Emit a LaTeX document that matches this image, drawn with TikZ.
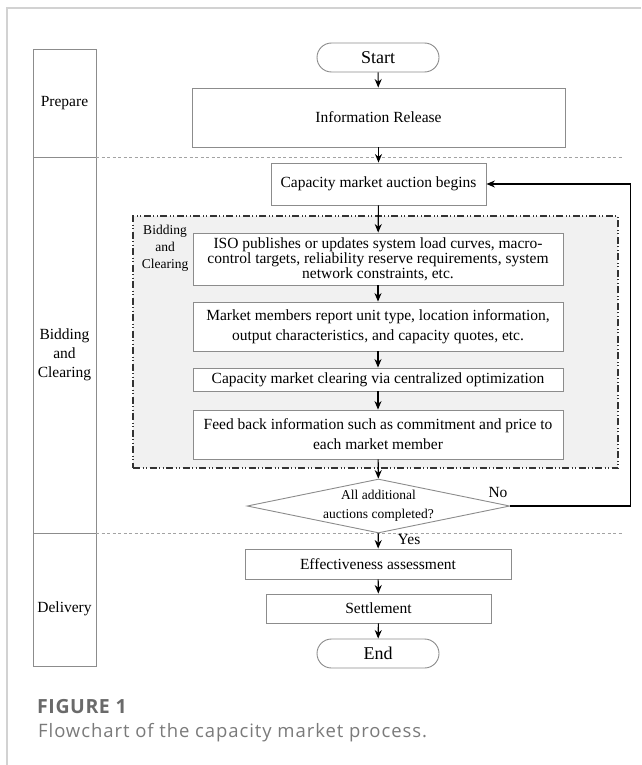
\documentclass[tikz,border=0pt]{standalone}
\usepackage{fontspec}
\setmainfont{Liberation Serif}
\newfontfamily\capfont[LetterSpace=5]{Open Sans}
\newfontfamily\capheadfont[LetterSpace=3]{Open Sans}
\usetikzlibrary{shapes.misc, shapes.geometric, arrows.meta}

\definecolor{framegray}{HTML}{D2D2D2}
\definecolor{boxgray}{HTML}{8C8C8C}
\definecolor{groupfill}{HTML}{F1F1F1}
\definecolor{capgray}{HTML}{6A6A6A}
\definecolor{captext}{HTML}{7A7A7A}

\tikzset{
  flowbox/.style={draw=boxgray, fill=white, line width=0.9pt, inner sep=0pt,
    align=center, font=\fontsize{15.5}{20}\selectfont},
  terminal/.style={rounded rectangle, draw=boxgray, fill=white, line width=0.9pt,
    minimum width=122pt, minimum height=29pt, inner sep=0pt,
    font=\fontsize{18}{20}\selectfont},
  decision/.style={diamond, draw=boxgray, fill=white, line width=0.9pt, aspect=4.87,
    minimum width=253pt, minimum height=52pt, inner sep=0pt, align=center,
    font=\fontsize{13.5}{19}\selectfont},
  groupbox/.style={draw=black!80, fill=groupfill, line width=1.1pt,
    dash pattern=on 7pt off 2.5pt on 1pt off 2.5pt on 1pt off 2.5pt},
  lanesep/.style={draw=boxgray!80, line width=0.6pt, dash pattern=on 3pt off 2.5pt},
  lanetext/.style={align=center, font=\fontsize{15.5}{19}\selectfont},
  flow/.style={-{Stealth[length=8.5pt,width=7pt]}, line width=1.1pt}
}

\begin{document}
\begin{tikzpicture}[x=1pt, y=-1pt]
  \useasboundingbox (0,0) rectangle (641,765);

  % Page frame
  \draw[framegray, line width=1.5pt] (641,8) -- (7,8) -- (7,765);

  % Lanes
  \draw[boxgray, line width=0.9pt] (33,49) rectangle (96,666);
  \draw[boxgray, line width=0.9pt] (33,157) -- (96,157);
  \draw[boxgray, line width=0.9pt] (33,533) -- (96,533);
  \draw[lanesep] (96,157) -- (623,157);
  \draw[lanesep] (96,533) -- (623,533);
  \node[lanetext] (prepare) at (64.5,103) {Prepare};
  \node[lanetext] (bidding) at (64.5,355) {Bidding\\and\\Clearing};
  \node[lanetext] (delivery) at (64.5,609) {Delivery};

  % Bidding and clearing group
  \node[groupbox, minimum width=485pt, minimum height=252pt, inner sep=0pt]
    (group) at (375.5,342) {};
  \node[align=center, font=\fontsize{13.5}{17}\selectfont] (grouplabel)
    at (165,248) {Bidding\\and\\Clearing};

  % Flow
  \node[terminal] (start) at (378,57.5) {Start};
  \node[flowbox, minimum width=373pt, minimum height=59pt] (info)
    at (378.5,117.5) {Information Release};
  \node[flowbox, minimum width=215pt, minimum height=42pt] (auction)
    at (378.5,184) {Capacity market auction begins};
  \node[flowbox, minimum width=370pt, minimum height=52pt,
    font=\fontsize{15.5}{15}\selectfont] (iso) at (378,259)
    {ISO publishes or updates system load curves, macro-\\
     control targets, reliability reserve requirements, system\\
     network constraints, etc.};
  \node[flowbox, minimum width=370pt, minimum height=49pt] (members)
    at (378,326.5) {Market members report unit type, location information,\\
     output characteristics, and capacity quotes, etc.};
  \node[flowbox, minimum width=370pt, minimum height=23pt] (clearing)
    at (378,379.5) {Capacity market clearing via centralized optimization};
  \node[flowbox, minimum width=370pt, minimum height=49pt] (feedback)
    at (378,434.5) {Feed back information such as commitment and price to\\
     each market member};
  \node[decision] (check) at (378.5,506) {All additional\\auctions completed?};
  \node[flowbox, minimum width=266pt, minimum height=30pt] (assess)
    at (378,564) {Effectiveness assessment};
  \node[flowbox, minimum width=225pt, minimum height=29pt] (settle)
    at (378.5,608.5) {Settlement};
  \node[terminal] (end) at (378,653.5) {End};

  \draw[flow] (start) -- (info);
  \draw[flow] (info) -- (auction);
  \draw[flow] (auction) -- (iso);
  \draw[flow] (iso) -- (members);
  \draw[flow] (members) -- (clearing);
  \draw[flow] (clearing) -- (feedback);
  \draw[flow] (feedback) -- (check);
  \draw[flow] (check) -- (assess);
  \draw[flow] (assess) -- (settle);
  \draw[flow] (settle) -- (end);
  \draw[flow] (check.east) -- ++(120,0) |- (auction.east);
  \node[font=\fontsize{15.5}{18}\selectfont] (no) at (498,492) {No};
  \node[font=\fontsize{15.5}{18}\selectfont] (yes) at (409,539) {Yes};

  % Caption
  \node[anchor=base west, inner sep=0pt, text=capgray,
    font=\capheadfont\bfseries\fontsize{19.5}{20}\selectfont] (figno) at (37,713) {FIGURE 1};
  \node[anchor=base west, inner sep=0pt, text=captext,
    font=\capfont\fontsize{18.5}{20}\selectfont] (figcap) at (38,737)
    {Flowchart of the capacity market process.};
\end{tikzpicture}
\end{document}
